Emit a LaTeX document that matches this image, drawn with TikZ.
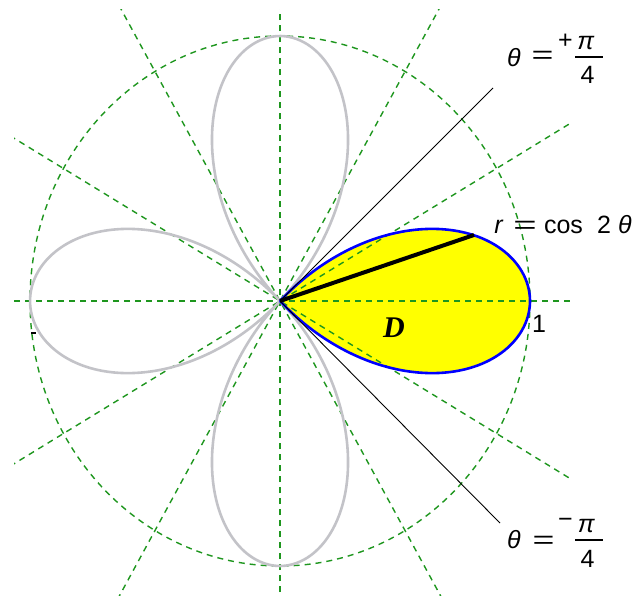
\documentclass[tikz,border=0pt]{standalone}
\usepackage{fontspec}
\setmainfont{Liberation Sans}
\newfontfamily\dfont{Liberation Serif}
\usepackage{graphicx}
\definecolor{gridgreen}{RGB}{30,150,30}
\definecolor{rosegray}{RGB}{195,195,200}
\definecolor{petalblue}{RGB}{0,0,255}
\definecolor{petalyellow}{RGB}{255,255,0}
\begin{document}
\begin{tikzpicture}[x=1pt,y=-1pt,
  gridline/.style={draw=gridgreen, line width=1.4pt, dash pattern=on 6pt off 5pt},
  rosecurve/.style={draw=rosegray, line width=2.6pt},
  bluecurve/.style={draw=petalblue, line width=2.6pt},
  thinline/.style={draw=black, line width=0.9pt},
  thickline/.style={draw=black, line width=4pt},
  lbl/.style={inner sep=0pt, font=\fontsize{25}{29}\selectfont},
  fracbar/.style={draw=black, line width=1.4pt}]
\useasboundingbox (0,0) rectangle (639,596);
\coordinate (O) at (280,301);
% yellow region D
\fill[petalyellow] plot[domain=-45:45, samples=120, smooth] ({280+250*cos(2*\x)*cos(\x)},{301-265*cos(2*\x)*sin(\x)}) -- cycle;
% polar grid
\begin{scope}
\clip (14,10) rectangle (570,596);
\foreach \a in {0,30,...,150}
  \draw[gridline] ({280-420*cos(\a)},{301+420*1.06*sin(\a)}) -- ({280+420*cos(\a)},{301-420*1.06*sin(\a)});
\end{scope}
\draw[gridline] (O) ellipse [x radius=250, y radius=265];
% other petals
\draw[rosecurve] plot[domain=45:315, samples=300, smooth] ({280+250*cos(2*\x)*cos(\x)},{301-265*cos(2*\x)*sin(\x)});
% right petal boundary
\draw[bluecurve] plot[domain=-45:45, samples=120, smooth] ({280+250*cos(2*\x)*cos(\x)},{301-265*cos(2*\x)*sin(\x)});
% lines
\coordinate (tp) at (493,88);
\coordinate (bt) at (500,523);
\coordinate (pt) at (474,235);
\draw[thinline] (O) -- (tp);
\draw[thinline] (O) -- (bt);
\draw[thickline] (O) -- (pt);
\coordinate (m1) at (31,333);
\coordinate (m2) at (36,333);
\draw[line width=1.5pt] (m1) -- (m2);
% label r = cos 2theta
\node[lbl, anchor=base] (rr) at (499,233) {\textit{r}};
\node[lbl, anchor=base] (req) at (525,233) {\scalebox{1.6}[1]{=}};
\node[lbl, anchor=base] (rcos) at (563.5,233) {cos};
\node[lbl, anchor=base] (rtwo) at (604,233) {2};
\node[lbl, anchor=base] (rth) at (625,233) {\textit{θ}};
\node[lbl] (one) at (539,324) {1};
\node[inner sep=0pt, font=\dfont\fontsize{30}{33}\selectfont\bfseries\itshape] (D) at (394,327.5) {D};
% top label
\node[lbl] (tth) at (514,57.5) {\textit{θ}};
\node[lbl] (teq) at (542.5,57) {\scalebox{1.5}[1]{=}};
\node[lbl] (tpl) at (565.5,41) {+};
\node[lbl] (tpi) at (586,43.5) {\textit{π}};
\node[lbl] (tfour) at (587.5,75) {4};
\coordinate (tb1) at (575,57);
\coordinate (tb2) at (603,57);
\draw[fracbar] (tb1) -- (tb2);
% bottom label
\node[lbl] (bth) at (514,540) {\textit{θ}};
\node[lbl] (beq) at (543.5,542) {\scalebox{1.5}[1]{=}};
\node[lbl] (bmi) at (565.5,523) {−};
\node[lbl] (bpi) at (586.5,526.5) {\textit{π}};
\node[lbl] (bfour) at (587.5,558.5) {4};
\coordinate (bb1) at (575,540);
\coordinate (bb2) at (603,540);
\draw[fracbar] (bb1) -- (bb2);
\end{tikzpicture}
\end{document}
